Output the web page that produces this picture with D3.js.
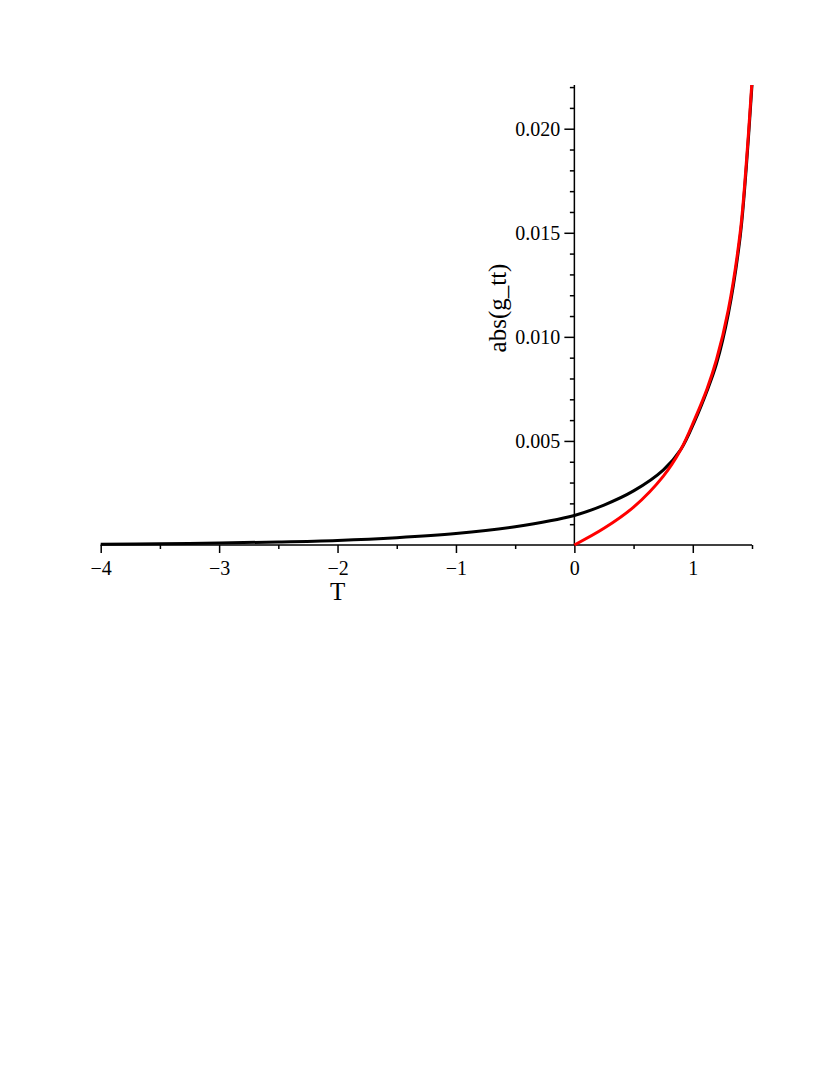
<!DOCTYPE html>
<html lang = "en">
<head>
    <style>
        body { margin: 0; background: #FFF; }
        svg { display: block; }
        .tick text { font: 20px "Liberation Serif", "Times New Roman", serif; fill: #000; }
        .axisLabel { font: 25px "Liberation Serif", "Times New Roman", serif; fill: #000; }
    </style>
</head>
<body>
    <svg width="830" height="1075"></svg>
    <script src="https://cdn.jsdelivr.net/npm/d3@7"></script>
    <script>
        /************************************************************************************
        * Data
        ************************************************************************************/
        const blackT = [-4, -3.5, -3, -2.5, -2, -1.5, -1, -0.5, 0, 0.25, 0.5, 0.75, 0.9, 1.02, 1.12, 1.2, 1.3, 1.4, 1.45, 1.5];
        const blackG = [0.000035, 0.00006, 0.000095, 0.000145, 0.00022, 0.00035, 0.00055, 0.00088, 0.00142, 0.00192,
                        0.0026, 0.0036, 0.0046, 0.0060, 0.0074, 0.0087, 0.0111, 0.0148, 0.0180, 0.0221];

        const redT = [0, 0.25, 0.5, 0.75, 0.9, 1.02, 1.12, 1.2, 1.3, 1.4, 1.45, 1.5];
        const redG = [0, 0.0008, 0.00182, 0.0033, 0.0046, 0.0061, 0.0075, 0.0089, 0.0113, 0.0150, 0.0182, 0.0223];

        const xMajor = [-4, -3, -2, -1, 0, 1];
        const xMinor = [-3.5, -2.5, -1.5, -0.5, 0.5, 1.5];
        const yMajor = [0.005, 0.010, 0.015, 0.020];
        const yMinor = d3.range(1, 23).map(i => i / 1000).filter(v => Math.round(v * 1000) % 5 !== 0);

        const svg = d3.select("svg");

        const xScale = d3.scaleLinear().domain([-4, 1.5]).range([100.7, 752]);
        const yScale = d3.scaleLinear().domain([0, 0.0221]).range([545, 85]);

        /************************************************************************************
        * Axes (Maple style, crossing at origin)
        ************************************************************************************/
        const fmtX = d => d < 0 ? "\u2212" + Math.abs(d) : String(d);

        // X-Axis: major + minor ticks, pointing down
        const xAxis = svg.append("g")
            .attr("transform", `translate(0, ${yScale(0)})`);
        xAxis.append("g")
            .call(d3.axisBottom(xScale).tickValues(xMinor).tickSize(4).tickFormat(""));
        xAxis.append("g")
            .call(d3.axisBottom(xScale).tickValues(xMajor).tickSize(8).tickPadding(8).tickFormat(fmtX));

        // Y-Axis: major + minor ticks, pointing left
        const yAxis = svg.append("g")
            .attr("transform", `translate(${xScale(0)}, 0)`);
        yAxis.append("g")
            .call(d3.axisLeft(yScale).tickValues(yMinor).tickSize(4.5).tickFormat(""));
        yAxis.append("g")
            .call(d3.axisLeft(yScale).tickValues(yMajor).tickSize(10).tickPadding(4).tickFormat(d3.format(".3f")));

        svg.selectAll(".domain").remove();
        svg.selectAll(".tick line").attr("stroke", "#000").attr("stroke-width", 1.5);

        // Axis lines
        svg.append("line")
            .attr("x1", xScale(-4)).attr("x2", xScale(1.5))
            .attr("y1", yScale(0)).attr("y2", yScale(0))
            .attr("stroke", "#000").attr("stroke-width", 1.5);
        svg.append("line")
            .attr("x1", xScale(0)).attr("x2", xScale(0))
            .attr("y1", yScale(0)).attr("y2", yScale.range()[1])
            .attr("stroke", "#000").attr("stroke-width", 1.5);

        // Axis labels
        svg.append("text")
            .attr("class", "axisLabel")
            .attr("x", xScale(-2))
            .attr("y", 600)
            .attr("text-anchor", "middle")
            .text("T");
        svg.append("text")
            .attr("class", "axisLabel")
            .attr("transform", `translate(506, 308) rotate(-90)`)
            .attr("text-anchor", "middle")
            .text("abs(g_tt)");

        /************************************************************************************
        * Curves
        ************************************************************************************/
        svg.append("defs").append("clipPath").attr("id", "plotClip")
            .append("rect")
            .attr("x", xScale(-4) - 5).attr("y", yScale.range()[1])
            .attr("width", xScale(1.5) - xScale(-4) + 10)
            .attr("height", yScale(0) - yScale.range()[1] + 5);

        const lineGenerator = d3.line()
            .x(d => xScale(d[0]))
            .y(d => yScale(d[1]))
            .curve(d3.curveCatmullRom.alpha(0.5));

        const curves = svg.append("g").attr("clip-path", "url(#plotClip)");

        curves.append("path")
            .datum(blackT.map((t, i) => [t, blackG[i]]))
            .attr("fill", "none")
            .attr("stroke", "#000")
            .attr("stroke-width", 3)
            .attr("d", lineGenerator);

        curves.append("path")
            .datum(redT.map((t, i) => [t, redG[i]]))
            .attr("fill", "none")
            .attr("stroke", "#FF0000")
            .attr("stroke-width", 3)
            .attr("d", lineGenerator);
    </script>
</body>
</html>
